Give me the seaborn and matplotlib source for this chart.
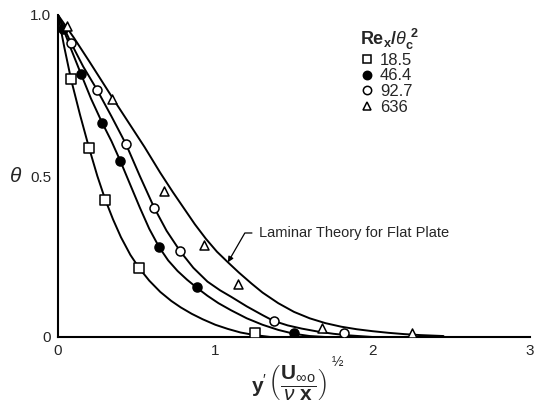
import matplotlib
matplotlib.use("Agg")
import matplotlib.pyplot as plt
from matplotlib.lines import Line2D
import seaborn as sns

# ---- marker data ----
sq_x = [0.083, 0.197, 0.30, 0.516, 1.25]
sq_y = [0.80, 0.588, 0.427, 0.214, 0.012]
fc_x = [0.03, 0.146, 0.28, 0.395, 0.643, 0.885, 1.497]
fc_y = [0.955, 0.817, 0.666, 0.548, 0.279, 0.155, 0.012]
oc_x = [0.083, 0.248, 0.433, 0.611, 0.777, 1.37, 1.82]
oc_y = [0.913, 0.768, 0.598, 0.402, 0.266, 0.05, 0.012]
tr_x = [0.057, 0.344, 0.675, 0.93, 1.146, 1.675, 2.25]
tr_y = [0.966, 0.74, 0.452, 0.285, 0.164, 0.028, 0.012]

# ---- curve data ----
sq_cx = [0, 0.04, 0.083, 0.14, 0.197, 0.25, 0.30, 0.35, 0.40, 0.46, 0.516, 0.58, 0.65,
         0.72, 0.78, 0.85, 0.92, 1.0, 1.08, 1.16, 1.25, 1.35]
sq_cy = [1.0, 0.90, 0.80, 0.69, 0.588, 0.50, 0.427, 0.365, 0.31, 0.255, 0.214, 0.175, 0.14,
         0.112, 0.092, 0.072, 0.055, 0.038, 0.025, 0.014, 0.006, 0.0]
fc_cx = [0, 0.07, 0.146, 0.21, 0.28, 0.34, 0.395, 0.46, 0.52, 0.58, 0.643, 0.70, 0.76, 0.82,
         0.885, 0.95, 1.02, 1.1, 1.2, 1.3, 1.4, 1.5, 1.6, 1.7]
fc_cy = [1.0, 0.91, 0.817, 0.74, 0.666, 0.608, 0.548, 0.472, 0.402, 0.336, 0.279, 0.238, 0.205,
         0.178, 0.152, 0.128, 0.105, 0.083, 0.058, 0.038, 0.022, 0.01, 0.003, 0.0]
oc_cx = [0, 0.083, 0.16, 0.248, 0.34, 0.433, 0.52, 0.611, 0.69, 0.777, 0.86, 0.95, 1.03, 1.1,
         1.2, 1.3, 1.37, 1.46, 1.55, 1.65, 1.75, 1.85, 2.0]
oc_cy = [1.0, 0.913, 0.84, 0.768, 0.685, 0.598, 0.50, 0.402, 0.33, 0.266, 0.215, 0.172, 0.145,
         0.125, 0.095, 0.068, 0.05, 0.036, 0.026, 0.017, 0.01, 0.005, 0.0]
th_cx = [0, 0.1, 0.2, 0.35, 0.45, 0.55, 0.65, 0.73, 0.8, 0.87, 0.94, 1.01, 1.08, 1.15, 1.23,
         1.3, 1.4, 1.5, 1.6, 1.7, 1.8, 1.9, 2.0, 2.1, 2.2, 2.3, 2.45]
th_cy = [1.0, 0.93, 0.855, 0.74, 0.665, 0.59, 0.51, 0.45, 0.40, 0.35, 0.305, 0.265, 0.232, 0.2,
         0.166, 0.138, 0.105, 0.078, 0.058, 0.043, 0.032, 0.024, 0.018, 0.013, 0.009, 0.006, 0.003]

labels = ["18.5", "46.4", "92.7", "636"]
x_ticks = [0, 1, 2, 3]
x_ticklabels = ["0", "1", "2", "3"]
y_ticks = [0, 0.5, 1.0]
y_ticklabels = ["0", "0.5", "1.0"]

sns.set_theme(style="white")
plt.rcParams["font.family"] = ["Liberation Sans", "DejaVu Sans"]
plt.rcParams["mathtext.fontset"] = "custom"
plt.rcParams["mathtext.rm"] = "Liberation Sans"
plt.rcParams["mathtext.it"] = "Liberation Sans:italic"
plt.rcParams["mathtext.bf"] = "Liberation Sans:bold"

fig = plt.figure(figsize=(5.47, 4.16), dpi=100)
ax = fig.add_axes([58 / 547, 1 - 337 / 416, (530 - 58) / 547, (337 - 15) / 416])

lw = 1.4
for cx, cy in [(sq_cx, sq_cy), (fc_cx, fc_cy), (oc_cx, oc_cy), (th_cx, th_cy)]:
    sns.lineplot(x=cx, y=cy, ax=ax, color="black", linewidth=lw, sort=False,
                 estimator=None, legend=False, zorder=2)

styles = [("s", "white"), ("o", "black"), ("o", "white"), ("^", "white")]
series = [(sq_x, sq_y), (fc_x, fc_y), (oc_x, oc_y), (tr_x, tr_y)]
for (mx, my), (m, fc) in zip(series, styles):
    sns.scatterplot(x=mx, y=my, ax=ax, marker=m, s=42, facecolor=fc,
                    edgecolor="black", linewidth=1.1, zorder=3, legend=False)

ax.set_xlim(0, 3)
ax.set_ylim(0, 1)
ax.set_xticks(x_ticks)
ax.set_xticklabels(x_ticklabels, fontsize=11)
ax.set_yticks(y_ticks)
ax.set_yticklabels(y_ticklabels, fontsize=11)
ax.tick_params(direction="in", length=6, width=1.1, color="black", pad=5)
for s in ["top", "right"]:
    ax.spines[s].set_visible(False)
for s in ["left", "bottom"]:
    ax.spines[s].set_color("black")
    ax.spines[s].set_linewidth(1.5)

ax.set_ylabel(r"$\theta$", rotation=0, fontsize=15, va="center")
ax.yaxis.set_label_coords(-0.09, 0.5)
ax.set_xlabel(r"$\mathbf{y}^{\prime}\,\left(\dfrac{\mathbf{U}_{\infty\mathrm{o}}}{\nu\ \mathbf{x}}\right)$",
              fontsize=15)
ax.xaxis.set_label_coords(0.49, -0.08)
fig.text(337 / 547, 1 - 362 / 416, "½", fontsize=10, ha="center", va="center")

handles = []
for (m, fc) in styles:
    handles.append(Line2D([], [], linestyle="none", marker=m, markersize=6,
                          markerfacecolor=fc, markeredgecolor="black", markeredgewidth=1.1))
leg = ax.legend(handles, labels, title=r"$\mathbf{Re_x/}\theta_\mathbf{c}^{\ \mathbf{2}}$",
                loc="upper left", bbox_to_anchor=(0.615, 1.0), frameon=False,
                fontsize=12, title_fontsize=13, handletextpad=0.4, labelspacing=0.05,
                handlelength=0.8, borderaxespad=0.3)
leg._legend_box.align = "left"

ax.annotate("Laminar Theory for Flat Plate", xy=(1.08, 0.232), xytext=(1.28, 0.323),
            fontsize=10.5, ha="left", va="center",
            arrowprops=dict(arrowstyle="-|>", color="black", lw=0.9, mutation_scale=8,
                            shrinkA=3, shrinkB=0,
                            connectionstyle="angle,angleA=0,angleB=60,rad=0"))

fig.savefig("out.png", dpi=100)
